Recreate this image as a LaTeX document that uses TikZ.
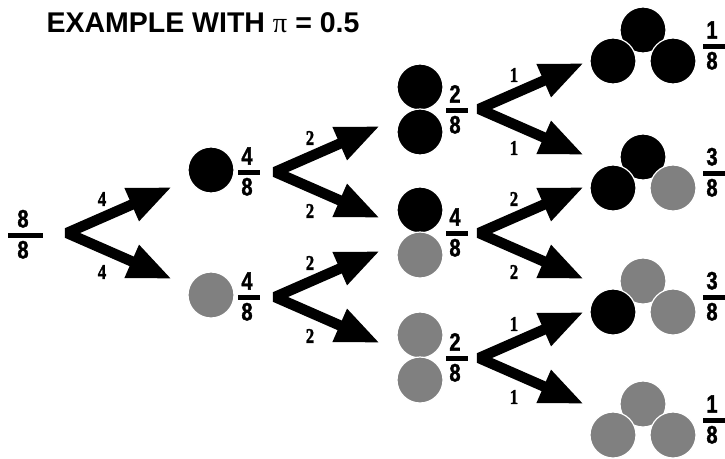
\documentclass[tikz,border=0pt]{standalone}
\usepackage{fontspec}
\setmainfont{Liberation Sans}
\newfontfamily\pifont{Liberation Serif}
\newfontfamily\fracfont[FakeStretch=0.8,FakeBold=1.5]{Liberation Sans Bold}
\newfontfamily\tallyfont[FakeStretch=0.8,FakeBold=1.5]{Liberation Serif Bold}
\usetikzlibrary{arrows.meta,positioning}
\definecolor{ballgrey}{RGB}{128,128,128}

\begin{document}
\begin{tikzpicture}[x=1pt,y=-1pt,
  ball/.style={circle,minimum size=46pt,inner sep=0pt,draw=white,line width=1.2pt},
  fracbar/.style={fill=black,inner sep=0pt,minimum height=5pt},
  digit/.style={inner sep=0pt,xshift=-2pt,font=\fracfont\fontsize{25}{25}\selectfont},
  tally/.style={inner sep=0pt,font=\tallyfont\fontsize{21}{21}\selectfont},
  fork/.style={line width=10.5pt,line join=bevel,>={Triangle[length=44pt,width=33pt]},<->}]
  \useasboundingbox (0,0) rectangle (725,458);

  \node[anchor=base west,font=\bfseries\fontsize{28.5}{28.5}\selectfont] (title) at (43,32)
    {EXAMPLE WITH {\pifont\mdseries π} = 0.5};

  % forks with their counts
  \foreach \ax/\ay/\u/\d [count=\n] in {67/233/4/4, 275/172/2/2, 275/297/2/2,
    479/109/1/1, 479/233/2/2, 479/358/1/1}{
    \coordinate (apex\n) at (\ax,\ay);
    \coordinate (up\n) at (\ax+105,\ay-46);
    \coordinate (dn\n) at (\ax+105,\ay+46);
    \draw[fork] (up\n) -- (apex\n) -- (dn\n);
    \node[tally] (nu\n) at (\ax+35,\ay-34) {\u};
    \node[tally] (nd\n) at (\ax+35,\ay+39) {\d};
  }

  % one draw
  \node[ball,fill=black] (b1) at (211,170) {};
  \node[ball,fill=ballgrey] (g1) at (211,295) {};

  % two draws
  \foreach \y/\s/\t [count=\n] in {87/black/black, 210/black/ballgrey, 335/ballgrey/ballgrey}{
    \node[ball,fill=\s] (top\n) at (420,\y) {};
    \node[ball,fill=\t] (bot\n) at (420,\y+45) {};
  }

  % three draws
  \foreach \y/\a/\b/\c [count=\n] in {30/black/black/black, 157/black/black/ballgrey,
    281/ballgrey/black/ballgrey, 404/ballgrey/ballgrey/ballgrey}{
    \node[ball,fill=\a] (peak\n) at (643,\y) {};
    \node[ball,fill=\b] (left\n) at (613,\y+31) {};
    \node[ball,fill=\c] (right\n) at (673,\y+31) {};
  }

  % probabilities
  \foreach \x/\y/\a/\b/\w [count=\n] in {25/235/8/8/35, 249/172/4/8/22, 249/297/4/8/22,
    457/110/2/8/22, 457/233/4/8/22, 457/358/2/8/22,
    714/46/1/8/22, 714/173/3/8/22, 714/297/3/8/22, 714/420/1/8/22}{
    \node[fracbar,minimum width=\w pt] (bar\n) at (\x,\y) {};
    \node[digit,above=4.5pt of bar\n] (num\n) {\a};
    \node[digit,below=3pt of bar\n] (den\n) {\b};
  }
\end{tikzpicture}
\end{document}
